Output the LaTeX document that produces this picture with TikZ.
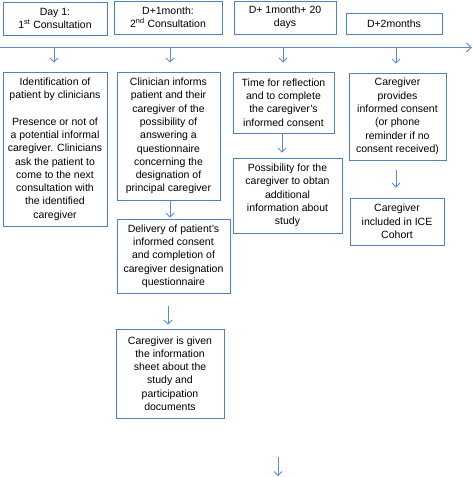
\documentclass[tikz,border=0pt]{standalone}
\usepackage{fontspec}
\setmainfont{Liberation Sans}
\usetikzlibrary{arrows.meta}
\definecolor{boxblue}{RGB}{79,129,189}
\definecolor{arrblue}{RGB}{90,140,200}
\begin{document}
\begin{tikzpicture}[x=1pt,y=-1pt,
  box/.style={draw=boxblue,line width=0.9pt,rectangle,align=center,inner sep=0pt,
    font=\fontsize{10.5}{13.3}\selectfont},
  arr/.style={draw=arrblue,line width=0.8pt,-{Straight Barb[length=4pt,width=8pt]}}]
\useasboundingbox (0,0) rectangle (473,477);
% header boxes
\node[box,minimum width=104pt,minimum height=33pt] (h1) at (55,18.5) {Day 1:\\1\textsuperscript{st} Consultation};
\node[box,minimum width=108pt,minimum height=33pt] (h2) at (168,17.5) {D+1month:\\2\textsuperscript{nd} Consultation};
\node[box,minimum width=102pt,minimum height=33pt] (h3) at (285,17.5) {D+ 1month+ 20\\days};
\node[box,minimum width=96pt,minimum height=21pt] (h4) at (394,23.5) {D+2months};
% timeline
\coordinate (tl0) at (0,47.5);
\coordinate (tl1) at (472,47.5);
\draw[draw=arrblue,line width=0.9pt,-{Straight Barb[length=5pt,width=9pt]}] (tl0) -- (tl1);
\coordinate (t1) at (54,48);
\coordinate (t2) at (170,48);
\coordinate (t3) at (283,48);
\coordinate (t4) at (396,48);
% boxes
\node[box,minimum width=104pt,minimum height=154pt] (b1) at (55,149)
 {Identification of\\patient by clinicians\\[13.3pt]Presence or not of\\a potential informal\\caregiver. Clinicians\\ask the patient to\\come to the next\\consultation with\\the identified\\caregiver};
\node[box,minimum width=103pt,minimum height=128pt] (b2) at (168.5,136)
 {Clinician informs\\patient and their\\caregiver of the\\possibility of\\answering a\\questionnaire\\concerning the\\designation of\\principal caregiver};
\node[box,minimum width=101pt,minimum height=61pt] (b3) at (283.5,102.5)
 {Time for reflection\\and to complete\\the caregiver's\\informed consent};
\node[box,minimum width=97pt,minimum height=87pt] (b4) at (397.5,116.5)
 {Caregiver\\provides\\informed consent\\(or phone\\reminder if no\\consent received)};
\node[box,minimum width=109pt,minimum height=75pt] (b3b) at (287.5,195.5)
 {Possibility for the\\caregiver to obtan\\additional\\information about\\study};
\node[box,minimum width=94pt,minimum height=47pt] (b4b) at (397,221.5)
 {Caregiver\\included in ICE\\Cohort};
\node[box,minimum width=113pt,minimum height=74pt] (d) at (173.5,256)
 {Delivery of patient's\\informed consent\\and completion of\\caregiver designation\\questionnaire};
\node[box,minimum width=108pt,minimum height=89pt] (c) at (170,373.5)
 {Caregiver is given\\the information\\sheet about the\\study and\\participation\\documents};
% arrows
\draw[arr,shorten >=9pt] (t1) -- (t1 |- b1.north);
\draw[arr,shorten >=9pt] (t2) -- (t2 |- b2.north);
\draw[arr,shorten >=9pt] (t3) -- (t3 |- b3.north);
\draw[arr,shorten >=9pt] (t4) -- (t4 |- b4.north);
\coordinate (a2) at (170,200);
\draw[arr,shorten >=1pt] (a2) -- (a2 |- d.north);
\coordinate (a3) at (282,133);
\draw[arr,shorten >=5pt] (a3) -- (a3 |- b3b.north);
\coordinate (a4) at (396,160);
\draw[arr,shorten <=10pt,shorten >=10pt] (a4) -- (a4 |- b4b.north);
\coordinate (a5) at (168,293);
\draw[arr,shorten <=13pt,shorten >=4pt] (a5) -- (a5 |- c.north);
\coordinate (e1) at (278,457);
\coordinate (e2) at (278,476);
\draw[arr] (e1) -- (e2);
\end{tikzpicture}
\end{document}
